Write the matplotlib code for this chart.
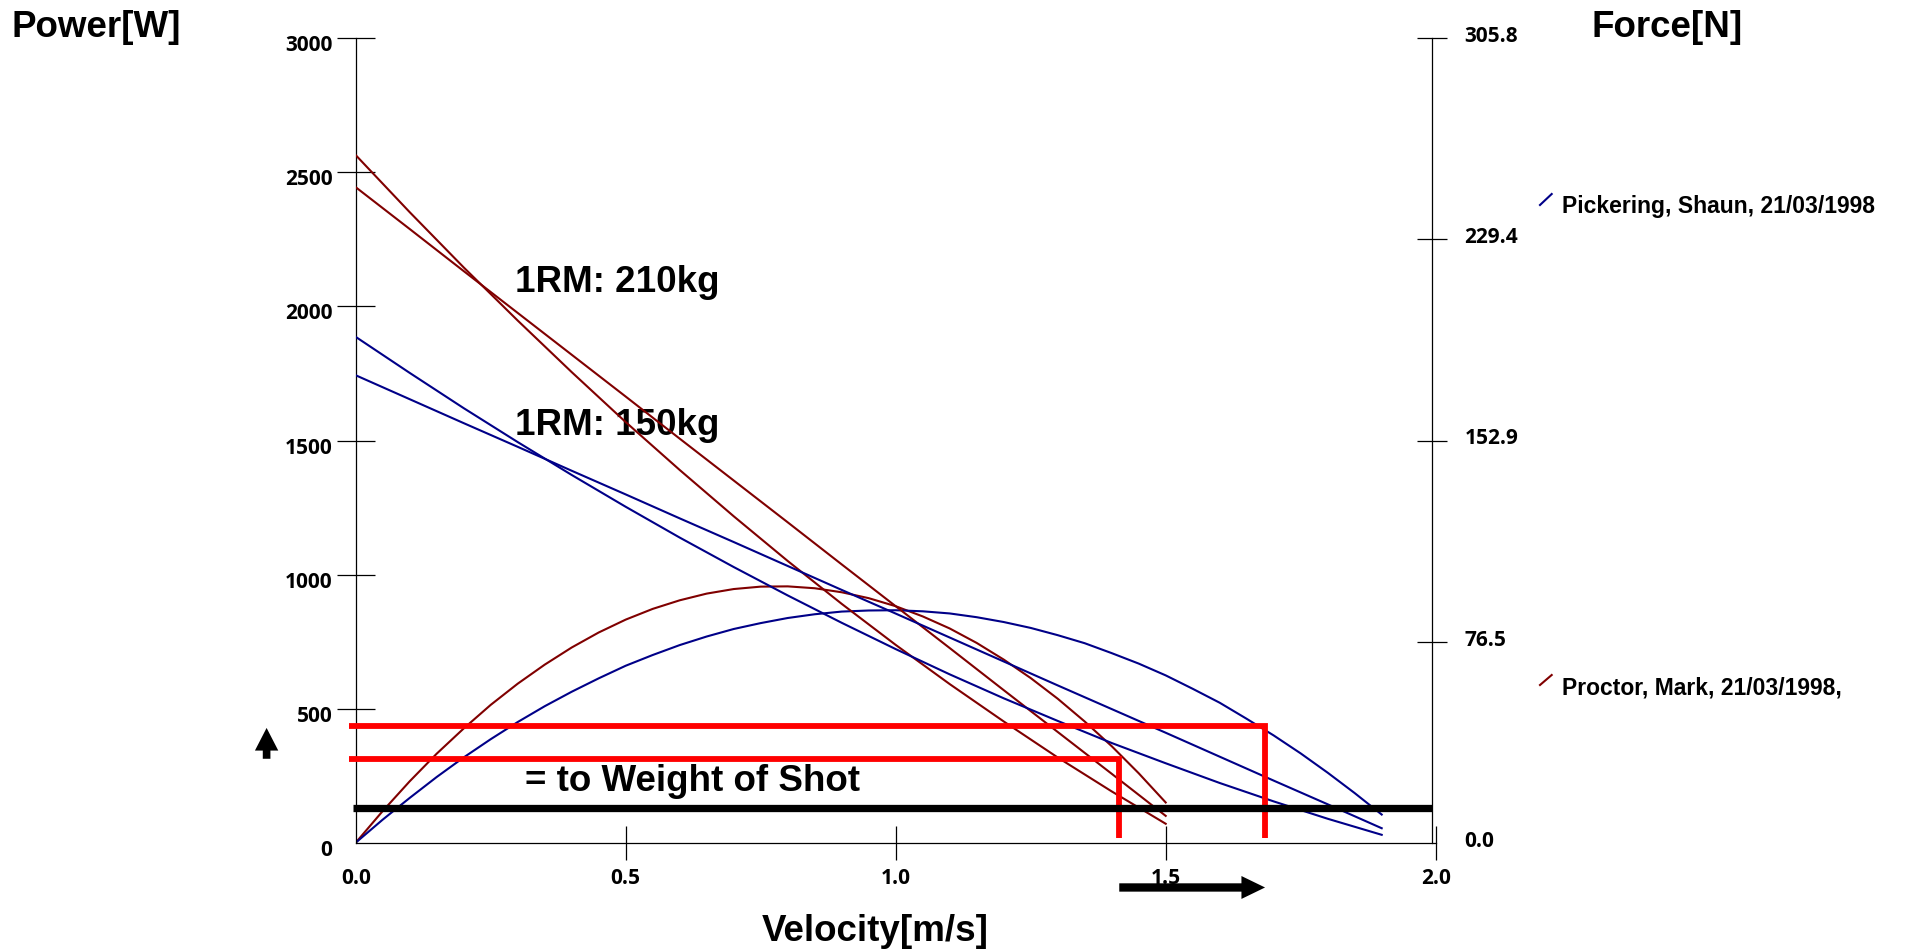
import matplotlib.pyplot as plt
from matplotlib.lines import Line2D
from matplotlib.transforms import ScaledTranslation

# Proctor, Mark - 1RM 210 kg
proctor_velocity = [0.0, 0.1, 0.2, 0.3, 0.4, 0.5, 0.6, 0.7, 0.8, 0.9, 1.0, 1.1, 1.2, 1.3, 1.4, 1.5]
proctor_force_a = [261.4, 239.7, 218.7, 198.5, 178.9, 159.9, 141.7, 124.1, 107.1, 90.8,
                   75.2, 60.3, 46.1, 32.4, 19.5, 7.2]
proctor_force_b = [249.2, 233.3, 217.3, 201.4, 185.5, 169.6, 153.6, 137.7, 121.8, 105.8,
                   89.9, 74.0, 58.0, 42.1, 26.2, 10.2]
proctor_power_velocity = [0.0, 0.05, 0.1, 0.15, 0.2, 0.25, 0.3, 0.35, 0.4, 0.45, 0.5,
                          0.55, 0.6, 0.65, 0.7, 0.75, 0.8, 0.85, 0.9, 0.95, 1.0,
                          1.05, 1.1, 1.15, 1.2, 1.25, 1.3, 1.35, 1.4, 1.45, 1.5]
proctor_power = [0, 118, 229, 332, 426, 514, 593, 664, 728, 784, 832,
                 872, 904, 929, 946, 955, 956, 949, 934, 912, 882,
                 844, 799, 745, 683, 614, 537, 452, 360, 259, 150]

# Pickering, Shaun - 1RM 150 kg
pickering_velocity = [0.0, 0.1, 0.2, 0.3, 0.4, 0.5, 0.6, 0.7, 0.8, 0.9,
                      1.0, 1.1, 1.2, 1.3, 1.4, 1.5, 1.6, 1.7, 1.8, 1.9]
pickering_force_a = [192.3, 178.6, 165.2, 152.3, 139.8, 127.7, 116.0, 104.8, 94.0, 83.6,
                     73.6, 64.0, 54.9, 46.3, 37.9, 30.2, 22.7, 15.7, 9.1, 3.0]
pickering_force_b = [177.7, 168.6, 159.5, 150.5, 141.4, 132.4, 123.3, 114.3, 105.2, 96.1,
                     87.1, 78.0, 68.9, 59.8, 50.8, 41.8, 32.7, 23.6, 14.6, 5.5]
pickering_power_velocity = [0.0, 0.05, 0.1, 0.15, 0.2, 0.25, 0.3, 0.35, 0.4, 0.45, 0.5,
                            0.55, 0.6, 0.65, 0.7, 0.75, 0.8, 0.85, 0.9, 0.95, 1.0,
                            1.05, 1.1, 1.15, 1.2, 1.25, 1.3, 1.35, 1.4, 1.45, 1.5,
                            1.55, 1.6, 1.65, 1.7, 1.75, 1.8, 1.85, 1.9]
pickering_power = [0, 86, 167, 245, 318, 386, 450, 509, 563, 613, 660,
                   700, 737, 769, 797, 819, 838, 852, 862, 866, 867,
                   863, 855, 841, 823, 801, 774, 744, 707, 668, 624,
                   574, 522, 462, 400, 333, 261, 185, 105]

velocity_ticks = [0.0, 0.5, 1.0, 1.5, 2.0]
power_ticks = [0, 500, 1000, 1500, 2000, 2500, 3000]
force_ticks = [0.0, 76.45, 152.9, 229.35, 305.8]
force_tick_labels = ['0.0', '76.5', '152.9', '229.4', '305.8']

shot_weight_power = 131
high_mark = (1.684, 434)   # velocity, power
low_mark = (1.414, 312)

dark_red = '#800000'
navy = '#000088'
big_font = ['Liberation Sans', 'DejaVu Sans']

plt.rcParams['font.family'] = ['Open Sans', 'DejaVu Sans']
plt.rcParams['font.weight'] = 'bold'

W, H = 1905, 951
fig = plt.figure(figsize=(W / 100, H / 100), dpi=100)


def fig_xy(x, y):
    return x / W, 1 - y / H


ax = fig.add_axes([355.7 / W, 1 - 842.7 / H, 1080 / W, 804.4 / H])
ax2 = ax.twinx()

# power curves (left axis)
ax.plot(proctor_power_velocity, proctor_power, color=dark_red, lw=1.5, zorder=2)
ax.plot(pickering_power_velocity, pickering_power, color=navy, lw=1.5, zorder=2)

# force-velocity lines (right axis)
ax2.plot(proctor_velocity, proctor_force_a, color=dark_red, lw=1.5, zorder=2)
ax2.plot(proctor_velocity, proctor_force_b, color=dark_red, lw=1.5, zorder=2)
ax2.plot(pickering_velocity, pickering_force_a, color=navy, lw=1.5, zorder=2)
ax2.plot(pickering_velocity, pickering_force_b, color=navy, lw=1.5, zorder=2)

# red power markers and the shot weight line, drawn in power units on top
for v, p in (high_mark, low_mark):
    ax2.plot([-0.012, v, v], [p, p, 16], color='red', lw=4.2, transform=ax.transData,
             clip_on=False, solid_joinstyle='miter', solid_capstyle='butt', zorder=4)
ax2.plot([-0.005, 1.9926], [shot_weight_power, shot_weight_power], color='black', lw=5.25,
         transform=ax.transData, clip_on=False, solid_capstyle='butt', zorder=5)

ax.set_xlim(0, 2.0)
ax.set_ylim(0, 3000)
ax2.set_ylim(0, 305.8)

ax.set_xticks(velocity_ticks)
ax.set_xticklabels([f'{v:.1f}' for v in velocity_ticks])
ax.set_yticks(power_ticks)
ax.set_yticklabels([str(p) for p in power_ticks])
ax2.set_yticks(force_ticks)
ax2.set_yticklabels(force_tick_labels)

for s in ('top', 'right'):
    ax.spines[s].set_visible(False)
for s in ('top', 'left', 'bottom'):
    ax2.spines[s].set_visible(False)
ax2.spines['right'].set_position(('axes', 0.9963))
for sp in (ax.spines['left'], ax.spines['bottom'], ax2.spines['right']):
    sp.set_linewidth(0.9)

ax.tick_params(axis='x', direction='inout', length=24.5, width=0.9, pad=6, labelsize=15)
ax.tick_params(axis='y', direction='inout', length=27, width=0.9, pad=3.2, labelsize=15)
ax2.tick_params(axis='y', direction='inout', length=22, width=0.9, pad=12.5, labelsize=15)

ax.xaxis.get_major_ticks()[0].tick1line.set_visible(False)
ax.yaxis.get_major_ticks()[0].tick1line.set_visible(False)
ax2.yaxis.get_major_ticks()[0].tick2line.set_visible(False)

down = ScaledTranslation(0, -0.05, fig.dpi_scale_trans)
for lbl in ax.get_yticklabels():
    lbl.set_transform(lbl.get_transform() + down)
up = ScaledTranslation(0, 0.04, fig.dpi_scale_trans)
for lbl in ax2.get_yticklabels():
    lbl.set_transform(lbl.get_transform() + up)

# annotations inside the plot
txt = dict(fontsize=26.5, fontweight='bold', family=big_font, zorder=1)
ax.text(0.295, 2055, '1RM: 210kg', **txt)
ax.text(0.295, 1519, '1RM: 150kg', **txt)
ax.text(0.3135, 191, '= to Weight of Shot', **txt)

# arrows
ax.annotate('', xy=(high_mark[0], -167), xytext=(low_mark[0], -167),
            arrowprops=dict(arrowstyle='simple,head_length=17,head_width=16.5,tail_width=6',
                            mutation_scale=1, fc='black', ec='none', shrinkA=0, shrinkB=0),
            annotation_clip=False)
ax.annotate('', xy=(-0.165, 428), xytext=(-0.165, 313),
            arrowprops=dict(arrowstyle='simple,head_length=16.3,head_width=16.8,tail_width=5.5',
                            mutation_scale=1, fc='black', ec='none', shrinkA=0, shrinkB=0),
            annotation_clip=False)

# axis titles
fig.text(*fig_xy(12, 36.7), 'Power[W]', **txt)
fig.text(*fig_xy(1591.7, 36.7), 'Force[N]', **txt)
fig.text(*fig_xy(762, 941), 'Velocity[m/s]', **txt)

# legend entries
leg = dict(fontsize=16.5, fontweight='bold', family=big_font)
fig.text(*fig_xy(1561.7, 213.3), 'Pickering, Shaun, 21/03/1998', **leg)
fig.text(*fig_xy(1561.7, 694.3), 'Proctor, Mark, 21/03/1998,', **leg)
x0, y0 = fig_xy(1540, 205)
x1, y1 = fig_xy(1551.7, 194)
fig.add_artist(Line2D([x0, x1], [y0, y1], color=navy, lw=1.5))
x0, y0 = fig_xy(1540, 685)
x1, y1 = fig_xy(1551.7, 675)
fig.add_artist(Line2D([x0, x1], [y0, y1], color=dark_red, lw=1.5))

fig.savefig('out.png', dpi=100)
